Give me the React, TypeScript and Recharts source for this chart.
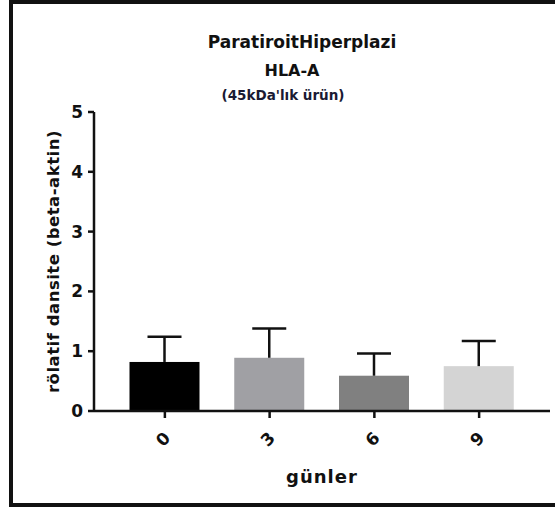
import { Bar, BarChart, Cell, XAxis, YAxis } from "recharts";

const days = ["0", "3", "6", "9"];
const density = [0.82, 0.89, 0.59, 0.75];
const densitySd = [0.42, 0.49, 0.37, 0.42];
const yTicks = [0, 1, 2, 3, 4, 5];

const barColors = ["#000000", "#a0a0a4", "#808080", "#d4d4d4"];
const font = "'DejaVu Sans', Verdana, sans-serif";
const ink = "#111111";

const data = days.map((d, i) => ({ day: d, mean: density[i], sd: densitySd[i] }));

function BarWithError(props: any) {
  const { x, y, width, height, fill, payload } = props;
  const perUnit = payload.mean ? height / payload.mean : 0;
  const top = y - payload.sd * perUnit;
  const cx = x + width / 2;
  return (
    <g>
      <rect x={x} y={y} width={width} height={height} fill={fill} />
      <line x1={cx} x2={cx} y1={y} y2={top} stroke={ink} strokeWidth={2.5} />
      <line x1={cx - 17} x2={cx + 17} y1={top} y2={top} stroke={ink} strokeWidth={2.5} />
    </g>
  );
}

function DayTick(props: any) {
  const { x, y, payload } = props;
  const ty = y + 19;
  return (
    <text
      x={x - 2}
      y={ty}
      transform={`rotate(-45, ${x - 2}, ${ty})`}
      textAnchor="middle"
      dominantBaseline="central"
      fontFamily={font}
      fontWeight="bold"
      fontSize={17}
      fill={ink}
    >
      {payload.value}
    </text>
  );
}

export default function App() {
  return (
    <div style={{ position: "absolute", left: 0, top: 0, width: 555, height: 509, overflow: "hidden", background: "#fff" }}>
      <div
        style={{
          position: "absolute",
          left: 9,
          top: 0,
          width: 600,
          height: 499,
          borderLeft: `4px solid ${ink}`,
          borderTop: `4px solid ${ink}`,
          borderBottom: `4px solid ${ink}`,
        }}
      />
      <svg width={555} height={120} style={{ position: "absolute", left: 0, top: 0 }}>
        <text x={302} y={48} textAnchor="middle" fontFamily={font} fontWeight="bold" fontSize={17} fill={ink}>
          ParatiroitHiperplazi
        </text>
        <text x={292} y={76} textAnchor="middle" fontFamily={font} fontWeight="bold" fontSize={16} fill={ink}>
          HLA-A
        </text>
        <text x={283} y={100} textAnchor="middle" fontFamily={font} fontWeight="bold" fontSize={13.5} fill="#1a1a33">
          (45kDa'lık ürün)
        </text>
      </svg>
      <div style={{ position: "absolute", left: 0, top: 0 }}>
        <BarChart width={555} height={509} data={data} margin={{ top: 112, right: 5, bottom: 0, left: 0 }} barSize={70}>
          <XAxis
            dataKey="day"
            height={98}
            padding={{ left: 18.5, right: 18.5 }}
            axisLine={{ stroke: ink, strokeWidth: 2.5 }}
            tickLine={{ stroke: ink, strokeWidth: 2.5 }}
            tickSize={7}
            tick={<DayTick />}
            interval={0}
            label={(p: any) => {
              const vb = p.viewBox;
              return (
                <text
                  x={vb.x + vb.width / 2}
                  y={vb.y + 72}
                  textAnchor="middle"
                  fontFamily={font}
                  fontWeight="bold"
                  fontSize={18}
                  letterSpacing={1}
                  fill={ink}
                >
                  günler
                </text>
              );
            }}
          />
          <YAxis
            width={94}
            domain={[0, 5]}
            ticks={yTicks}
            interval={0}
            axisLine={{ stroke: ink, strokeWidth: 2.5 }}
            tickLine={{ stroke: ink, strokeWidth: 2.5 }}
            tickSize={6}
            tickMargin={5}
            tick={{ fontFamily: font, fontWeight: "bold", fontSize: 17, fill: ink }}
            label={(p: any) => {
              const vb = p.viewBox;
              const cx = 53;
              const cy = vb.y + vb.height / 2;
              return (
                <text
                  x={cx}
                  y={cy}
                  transform={`rotate(-90, ${cx}, ${cy})`}
                  textAnchor="middle"
                  dominantBaseline="central"
                  fontFamily={font}
                  fontWeight="bold"
                  fontSize={16.5}
                  letterSpacing={0.5}
                  fill={ink}
                >
                  rölatif dansite (beta-aktin)
                </text>
              );
            }}
          />
          <Bar dataKey="mean" isAnimationActive={false} shape={<BarWithError />}>
            {data.map((d, i) => (
              <Cell key={d.day} fill={barColors[i]} />
            ))}
          </Bar>
        </BarChart>
      </div>
    </div>
  );
}
